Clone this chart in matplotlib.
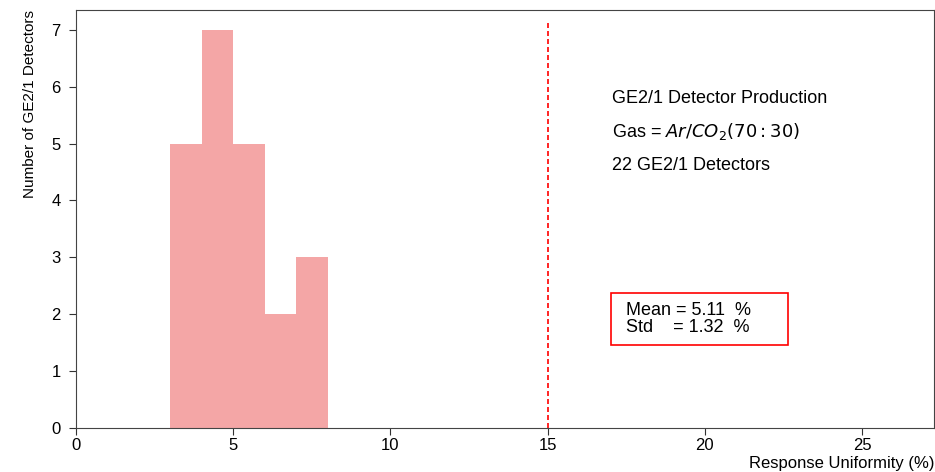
import matplotlib
matplotlib.use('Agg')
import matplotlib.pyplot as plt
from matplotlib.patches import Rectangle
import numpy as np

# histogram bins (response uniformity %) and detector counts
bin_edges = [3, 4, 5, 6, 7, 8]
counts = [5, 7, 5, 2, 3]
limit = 15
mean_val = 5.11
std_val = 1.32

plt.rcParams['font.family'] = ['Liberation Sans', 'DejaVu Sans']
plt.rcParams['mathtext.fontset'] = 'dejavusans'

fig = plt.figure(figsize=(9.35, 4.72), dpi=100)
ax = fig.add_axes([0.0813, 0.0932, 0.918, 0.886])

ax.bar(bin_edges[:-1], counts, width=np.diff(bin_edges), align='edge',
       color='lightcoral', alpha=0.7, linewidth=0)
ax.vlines(limit, 0, 7.14, colors='red', linestyles=(0, (3, 1.8)), linewidth=1.2)

ax.set_xlim(0, 27.3)
ax.set_ylim(0, 7.35)
ax.set_xticks([0, 5, 10, 15, 20, 25])
ax.set_yticks(range(8))
ax.tick_params(labelsize=12, length=5, color='#333333')
ax.tick_params(axis='x', pad=2)
ax.tick_params(axis='y', pad=6)
for s in ax.spines.values():
    s.set_color('#444444')

ax.set_xlabel('Response Uniformity (%)', fontsize=12, loc='right')
ax.xaxis.set_label_coords(1.0, -0.066)
ax.set_ylabel('Number of GE2/1 Detectors', fontsize=11, loc='top')
ax.yaxis.set_label_coords(-0.045, 1.0)

ax.text(0.624, 0.789, 'GE2/1 Detector Production', transform=ax.transAxes,
        fontsize=13, va='center')
ax.text(0.624, 0.708, r'Gas = $Ar/CO_2(70:30)$', transform=ax.transAxes,
        fontsize=13, va='center')
ax.text(0.624, 0.627, '22 GE2/1 Detectors', transform=ax.transAxes,
        fontsize=13, va='center')

# stats box
ax.text(0.641, 0.261, 'Mean = %.2f  %%\nStd    = %.2f  %%' % (mean_val, std_val),
        transform=ax.transAxes, fontsize=13, va='center', linespacing=0.95)
ax.add_patch(Rectangle((0.6235, 0.1986), 0.2063, 0.1244, transform=ax.transAxes,
                       facecolor='none', edgecolor='red', linewidth=1.2))

fig.savefig('out.png', dpi=100)
